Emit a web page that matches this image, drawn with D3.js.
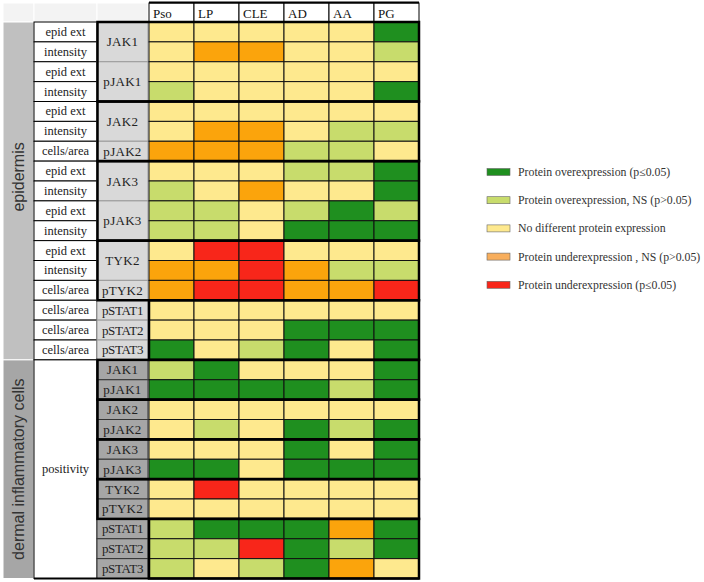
<!DOCTYPE html>
<html>
<head>
<meta charset="utf-8">
<script src="https://cdn.jsdelivr.net/npm/d3@7"></script>
<style>
body { margin: 0; background: #fff; }
</style>
</head>
<body>
<div id="chart"></div>
<script>
// diseases across the top
const diseases = ['Pso', 'LP', 'CLE', 'AD', 'AA', 'PG'];

// row structure: [label, number of rows it spans]
const groupCells = [['epidermis', 17], ['dermal inflammatory cells', 11]];
const measureCells = [
    ['epid ext', 1], ['intensity', 1], ['epid ext', 1], ['intensity', 1],
    ['epid ext', 1], ['intensity', 1], ['cells/area', 1],
    ['epid ext', 1], ['intensity', 1], ['epid ext', 1], ['intensity', 1],
    ['epid ext', 1], ['intensity', 1], ['cells/area', 1],
    ['cells/area', 1], ['cells/area', 1], ['cells/area', 1],
    ['positivity', 11]
];
const proteinCells = [
    ['JAK1', 2], ['pJAK1', 2], ['JAK2', 2], ['pJAK2', 1], ['JAK3', 2], ['pJAK3', 2],
    ['TYK2', 2], ['pTYK2', 1], ['pSTAT1', 1], ['pSTAT2', 1], ['pSTAT3', 1],
    ['JAK1', 1], ['pJAK1', 1], ['JAK2', 1], ['pJAK2', 1], ['JAK3', 1], ['pJAK3', 1],
    ['TYK2', 1], ['pTYK2', 1], ['pSTAT1', 1], ['pSTAT2', 1], ['pSTAT3', 1]
];
// protein families get the heavy frame: [rows spanned, frame includes protein column]
const familyBlocks = [[4, true], [3, true], [4, true], [3, true], [3, false],
                      [2, true], [2, true], [2, true], [2, true], [3, false]];

// 2 = over p<=0.05, 1 = over NS, 0 = no diff, -1 = under NS, -2 = under p<=0.05
const expression = [
    [0, 0, 0, 0, 0, 2],
    [0, -1, -1, 0, 0, 1],
    [0, 0, 0, 0, 0, 0],
    [1, 0, 0, 0, 0, 2],
    [0, 0, 0, 0, 0, 0],
    [0, -1, -1, 0, 1, 1],
    [-1, -1, -1, 1, 1, 0],
    [0, 0, 0, 1, 1, 2],
    [1, 0, -1, 0, 0, 2],
    [1, 1, 0, 1, 2, 1],
    [1, 1, 0, 2, 2, 2],
    [0, -2, -2, 0, 0, 0],
    [-1, -1, -2, -1, 1, 1],
    [-1, -2, -2, -1, -1, -2],
    [0, 0, 0, 0, 0, 0],
    [0, 0, 0, 2, 2, 2],
    [2, 0, 1, 2, 0, 2],
    // dermal inflammatory cells
    [1, 2, 0, 0, 0, 2],
    [2, 2, 2, 2, 1, 2],
    [0, 0, 0, 0, 0, 0],
    [0, 1, 0, 2, 1, 2],
    [0, 0, 0, 2, 0, 2],
    [2, 2, 0, 2, 2, 2],
    [0, -2, 0, 0, 0, 0],
    [0, 0, 0, 0, 0, 0],
    [1, 2, 2, 2, -1, 2],
    [1, 1, -2, 2, 1, 2],
    [1, 0, 1, 2, -1, 0]
];

const levels = [2, 1, 0, -1, -2];
const levelColors = ['#1f8f1f', '#c8dc6c', '#fee98e', '#fba40c', '#f8261a'];
const legendLabels = [
    'Protein overexpression (p\u22640.05)',
    'Protein overexpression, NS (p>0.05)',
    'No different protein expression',
    'Protein underexpression , NS (p>0.05)',
    'Protein underexpression (p\u22640.05)'
];
const legendColors = ['#1f8f1f', '#c8dc6c', '#fee98e', '#f8ae5c', '#f8261a'];

const serif = '"Liberation Serif", "Times New Roman", serif';
const sans = '"Liberation Sans", Arial, sans-serif';

const svg = d3.select('#chart').append('svg')
    .attr('width', 704)
    .attr('height', 582);

const nRows = expression.length;

const x = d3.scaleBand().domain(diseases).range([149, 419]);
const y = d3.scaleBand().domain(d3.range(nRows)).range([22, 578.5]);
const color = d3.scaleOrdinal().domain(levels).range(levelColors);

const rh = y.bandwidth();

// label columns
const colGroup = [3, 34], colMeasure = [34, 97], colProtein = [97, 148];

// turn [label, span] lists into row extents
function spans(list) {
    let start = 0;
    return list.map(([label, n], i) => {
        const s = { label, start, n, i };
        start += n;
        return s;
    });
}
const y0 = s => y(s.start);
const y1 = s => y(s.start + s.n - 1) + rh;

// header
const header = svg.append('g');
header.selectAll('rect.blank')
    .data([colGroup, colMeasure, colProtein])
    .join('rect')
    .attr('x', d => d[0]).attr('y', 3)
    .attr('width', d => d[1] - d[0]).attr('height', 19)
    .attr('fill', '#f3f3f3')
    .attr('stroke', '#fff');

header.selectAll('rect.col')
    .data(diseases)
    .join('rect')
    .attr('x', d => x(d)).attr('y', 3)
    .attr('width', x.bandwidth()).attr('height', 19)
    .attr('fill', '#fff')
    .attr('stroke', '#000').attr('stroke-width', 1);

header.append('line')
    .attr('x1', x.range()[0]).attr('x2', x.range()[1])
    .attr('y1', 2.5).attr('y2', 2.5)
    .attr('stroke', '#000').attr('stroke-width', 2);

header.selectAll('text')
    .data(diseases)
    .join('text')
    .attr('x', d => x(d) + 4).attr('y', 13)
    .attr('dominant-baseline', 'central')
    .attr('font-family', serif).attr('font-size', 13).attr('fill', '#111')
    .text(d => d);

// group column
const groupSpans = spans(groupCells);
const groupFill = ['#c0c0c0', '#a6a6a6'];
svg.append('g').selectAll('rect')
    .data(groupSpans)
    .join('rect')
    .attr('x', colGroup[0]).attr('y', d => y0(d))
    .attr('width', colGroup[1] - colGroup[0])
    .attr('height', d => y1(d) - y0(d))
    .attr('fill', d => groupFill[d.i])
    .attr('stroke', '#fff').attr('stroke-width', 1);

svg.append('g').selectAll('text')
    .data(groupSpans)
    .join('text')
    .attr('transform', d => {
        const cy = d.i === 0 ? (y0(d) + y1(d)) / 2 - 14 : (y0(d) + y1(d)) / 2;
        return `translate(${(colGroup[0] + colGroup[1]) / 2},${cy}) rotate(-90)`;
    })
    .attr('text-anchor', 'middle')
    .attr('dominant-baseline', 'central')
    .attr('font-family', sans).attr('font-size', 16).attr('fill', '#333')
    .text(d => d.label);

// measure column
const measureSpans = spans(measureCells);
svg.append('g').selectAll('rect')
    .data(measureSpans)
    .join('rect')
    .attr('x', colMeasure[0]).attr('y', d => y0(d))
    .attr('width', colMeasure[1] - colMeasure[0])
    .attr('height', d => y1(d) - y0(d))
    .attr('fill', '#fff')
    .attr('stroke', '#000').attr('stroke-width', 1);

svg.append('g').selectAll('text')
    .data(measureSpans)
    .join('text')
    .attr('x', (colMeasure[0] + colMeasure[1]) / 2)
    .attr('y', d => (y0(d) + y1(d)) / 2)
    .attr('text-anchor', 'middle')
    .attr('dominant-baseline', 'central')
    .attr('font-family', serif).attr('font-size', 12.5).attr('fill', '#222')
    .text(d => d.label);

// protein column
const proteinSpans = spans(proteinCells);
const epidRows = groupCells[0][1];
svg.append('g').selectAll('rect')
    .data(proteinSpans)
    .join('rect')
    .attr('x', colProtein[0]).attr('y', d => y0(d))
    .attr('width', colProtein[1] - colProtein[0])
    .attr('height', d => y1(d) - y0(d))
    .attr('fill', d => d.start < epidRows ? '#d9d9d9' : '#a6a6a6')
    .attr('stroke', d => d.start < epidRows ? '#9a9a9a' : '#333')
    .attr('stroke-width', 1);

svg.append('g').selectAll('text')
    .data(proteinSpans)
    .join('text')
    .attr('x', (colProtein[0] + colProtein[1]) / 2)
    .attr('y', d => (y0(d) + y1(d)) / 2)
    .attr('text-anchor', 'middle')
    .attr('dominant-baseline', 'central')
    .attr('font-family', serif).attr('font-size', 13).attr('fill', '#222')
    .attr('letter-spacing', d => d.label.startsWith('pSTAT') ? -0.3 : 0.3)
    .text(d => d.label);

// heatmap cells
const cells = [];
expression.forEach((row, r) => row.forEach((v, c) => cells.push({ r, c, v })));

svg.append('g').selectAll('rect')
    .data(cells)
    .join('rect')
    .attr('x', d => x(diseases[d.c]))
    .attr('y', d => y(d.r))
    .attr('width', x.bandwidth())
    .attr('height', rh)
    .attr('fill', d => color(d.v))
    .attr('stroke', '#111').attr('stroke-width', 1);

// heavy frames around protein families
const familySpans = spans(familyBlocks.map(d => [d[1], d[0]]));
svg.append('g').selectAll('rect')
    .data(familySpans)
    .join('rect')
    .attr('x', d => d.label ? colProtein[0] + 0.5 : x.range()[0])
    .attr('y', d => y0(d))
    .attr('width', d => x.range()[1] - (d.label ? colProtein[0] + 0.5 : x.range()[0]))
    .attr('height', d => y1(d) - y0(d))
    .attr('fill', 'none')
    .attr('stroke', '#000').attr('stroke-width', 2.5);

// bottom edge of the table
svg.append('line')
    .attr('x1', colMeasure[0]).attr('x2', x.range()[1])
    .attr('y1', y.range()[1]).attr('y2', y.range()[1])
    .attr('stroke', '#000').attr('stroke-width', 2);

// legend
const legend = svg.append('g').attr('transform', 'translate(487,172)');
const item = legend.selectAll('g')
    .data(legendLabels)
    .join('g')
    .attr('transform', (d, i) => `translate(0,${i * 28.2})`);

item.append('rect')
    .attr('x', 0).attr('y', -3.5)
    .attr('width', 23).attr('height', 7)
    .attr('fill', (d, i) => legendColors[i])
    .attr('stroke', '#666').attr('stroke-width', 0.6);

item.append('text')
    .attr('x', 31).attr('y', 0)
    .attr('dominant-baseline', 'central')
    .attr('font-family', serif).attr('font-size', 11.8).attr('fill', '#333')
    .text(d => d);
</script>
</body>
</html>
